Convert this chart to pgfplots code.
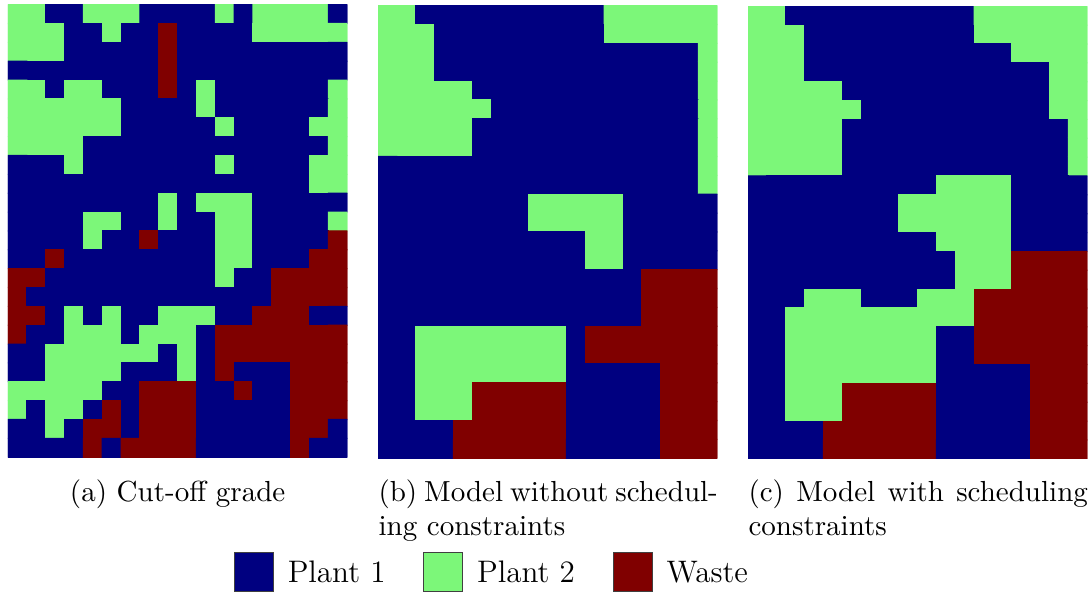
\documentclass[border=0pt]{standalone}
\usepackage{pgfplots}
\usepackage{pgfplotstable}
\pgfplotsset{compat=1.18}
\definecolor{plantone}{RGB}{0,0,128}
\definecolor{planttwo}{RGB}{124,247,121}
\definecolor{waste}{RGB}{128,0,0}
\pgfplotsset{
  colormap={mine}{rgb255=(0,0,128) rgb255=(124,247,121) rgb255=(128,0,0)},
  panel/.style={scale only axis, width=122.15pt, height=162.9pt, hide axis,
    xmin=-0.5, xmax=17.5, ymin=-0.5, ymax=23.5, y dir=reverse,
    enlargelimits=false, anchor=north west, colormap name=mine,
    point meta min=1, point meta max=3},
}
\pgfplotstableread[row sep=\\]{
x y a b c\\
0 0 2 2 2\\1 0 2 2 2\\2 0 1 1 1\\3 0 1 1 1\\4 0 2 1 1\\5 0 2 1 1\\6 0 2 1 1\\7 0 1 1 1\\8 0 1 1 1\\9 0 1 1 1\\10 0 1 1 1\\11 0 2 1 1\\12 0 1 2 2\\13 0 2 2 2\\14 0 2 2 2\\15 0 2 2 2\\16 0 2 2 2\\17 0 1 2 2\\
0 1 2 2 2\\1 1 2 2 2\\2 1 2 2 2\\3 1 1 1 1\\4 1 1 1 1\\5 1 2 1 1\\6 1 1 1 1\\7 1 1 1 1\\8 1 3 1 1\\9 1 1 1 1\\10 1 1 1 1\\11 1 1 1 1\\12 1 1 2 2\\13 1 2 2 2\\14 1 2 2 2\\15 1 2 2 2\\16 1 2 2 2\\17 1 2 2 2\\
0 2 2 2 2\\1 2 2 2 2\\2 2 2 2 2\\3 2 1 1 1\\4 2 1 1 1\\5 2 1 1 1\\6 2 1 1 1\\7 2 1 1 1\\8 2 3 1 1\\9 2 1 1 1\\10 2 1 1 1\\11 2 1 1 1\\12 2 1 1 1\\13 2 1 1 1\\14 2 1 1 2\\15 2 1 1 2\\16 2 1 1 2\\17 2 1 2 2\\
0 3 1 2 2\\1 3 1 2 2\\2 3 1 2 2\\3 3 1 1 1\\4 3 1 1 1\\5 3 1 1 1\\6 3 1 1 1\\7 3 1 1 1\\8 3 3 1 1\\9 3 1 1 1\\10 3 1 1 1\\11 3 1 1 1\\12 3 1 1 1\\13 3 1 1 1\\14 3 1 1 1\\15 3 1 1 1\\16 3 1 1 2\\17 3 1 2 2\\
0 4 2 2 2\\1 4 2 2 2\\2 4 1 2 2\\3 4 2 2 2\\4 4 2 2 2\\5 4 1 1 1\\6 4 1 1 1\\7 4 1 1 1\\8 4 3 1 1\\9 4 1 1 1\\10 4 2 1 1\\11 4 1 1 1\\12 4 1 1 1\\13 4 1 1 1\\14 4 1 1 1\\15 4 1 1 1\\16 4 1 1 2\\17 4 2 2 2\\
0 5 2 2 2\\1 5 2 2 2\\2 5 2 2 2\\3 5 2 2 2\\4 5 2 2 2\\5 5 2 2 2\\6 5 1 1 1\\7 5 1 1 1\\8 5 1 1 1\\9 5 1 1 1\\10 5 2 1 1\\11 5 1 1 1\\12 5 1 1 1\\13 5 1 1 1\\14 5 1 1 1\\15 5 1 1 1\\16 5 1 1 2\\17 5 2 2 2\\
0 6 2 2 2\\1 6 2 2 2\\2 6 2 2 2\\3 6 2 2 2\\4 6 2 2 2\\5 6 2 1 1\\6 6 1 1 1\\7 6 1 1 1\\8 6 1 1 1\\9 6 1 1 1\\10 6 1 1 1\\11 6 2 1 1\\12 6 1 1 1\\13 6 1 1 1\\14 6 1 1 1\\15 6 1 1 1\\16 6 2 1 1\\17 6 2 2 2\\
0 7 2 2 2\\1 7 2 2 2\\2 7 2 2 2\\3 7 2 2 2\\4 7 1 2 2\\5 7 1 1 1\\6 7 1 1 1\\7 7 1 1 1\\8 7 1 1 1\\9 7 1 1 1\\10 7 1 1 1\\11 7 1 1 1\\12 7 1 1 1\\13 7 1 1 1\\14 7 1 1 1\\15 7 1 1 1\\16 7 1 1 1\\17 7 2 2 2\\
0 8 1 1 2\\1 8 1 1 2\\2 8 1 1 2\\3 8 2 1 2\\4 8 1 1 2\\5 8 1 1 1\\6 8 1 1 1\\7 8 1 1 1\\8 8 1 1 1\\9 8 1 1 1\\10 8 1 1 1\\11 8 2 1 1\\12 8 1 1 1\\13 8 1 1 1\\14 8 1 1 1\\15 8 1 1 1\\16 8 2 1 1\\17 8 2 2 2\\
0 9 1 1 1\\1 9 1 1 1\\2 9 1 1 1\\3 9 1 1 1\\4 9 1 1 1\\5 9 1 1 1\\6 9 1 1 1\\7 9 1 1 1\\8 9 1 1 1\\9 9 1 1 1\\10 9 1 1 2\\11 9 1 1 2\\12 9 1 1 2\\13 9 1 1 2\\14 9 1 1 1\\15 9 1 1 1\\16 9 2 1 1\\17 9 2 2 1\\
0 10 1 1 1\\1 10 1 1 1\\2 10 1 1 1\\3 10 1 1 1\\4 10 1 1 1\\5 10 1 1 1\\6 10 1 1 1\\7 10 1 1 1\\8 10 2 2 2\\9 10 1 2 2\\10 10 2 2 2\\11 10 2 2 2\\12 10 2 2 2\\13 10 1 1 2\\14 10 1 1 1\\15 10 1 1 1\\16 10 1 1 1\\17 10 1 1 1\\
0 11 1 1 1\\1 11 1 1 1\\2 11 1 1 1\\3 11 1 1 1\\4 11 2 1 1\\5 11 2 1 1\\6 11 1 1 1\\7 11 1 1 1\\8 11 2 2 2\\9 11 1 2 2\\10 11 1 2 2\\11 11 2 2 2\\12 11 2 2 2\\13 11 1 1 2\\14 11 1 1 1\\15 11 1 1 1\\16 11 1 1 1\\17 11 2 1 1\\
0 12 1 1 1\\1 12 1 1 1\\2 12 1 1 1\\3 12 1 1 1\\4 12 2 1 1\\5 12 1 1 1\\6 12 1 1 1\\7 12 3 1 1\\8 12 1 1 1\\9 12 1 1 1\\10 12 1 1 2\\11 12 2 2 2\\12 12 2 2 2\\13 12 1 1 2\\14 12 1 1 1\\15 12 1 1 1\\16 12 1 1 1\\17 12 3 1 1\\
0 13 1 1 1\\1 13 1 1 1\\2 13 3 1 1\\3 13 1 1 1\\4 13 1 1 1\\5 13 1 1 1\\6 13 1 1 1\\7 13 1 1 1\\8 13 1 1 1\\9 13 1 1 1\\10 13 1 1 1\\11 13 2 2 2\\12 13 2 2 2\\13 13 1 1 2\\14 13 1 1 3\\15 13 1 1 3\\16 13 3 1 3\\17 13 3 1 3\\
0 14 3 1 1\\1 14 3 1 1\\2 14 1 1 1\\3 14 1 1 1\\4 14 1 1 1\\5 14 1 1 1\\6 14 1 1 1\\7 14 1 1 1\\8 14 1 1 1\\9 14 1 1 1\\10 14 1 1 1\\11 14 2 1 2\\12 14 1 1 2\\13 14 1 1 2\\14 14 3 3 3\\15 14 3 3 3\\16 14 3 3 3\\17 14 3 3 3\\
0 15 3 1 1\\1 15 1 1 1\\2 15 1 1 1\\3 15 1 1 2\\4 15 1 1 2\\5 15 1 1 2\\6 15 1 1 1\\7 15 1 1 1\\8 15 1 1 1\\9 15 1 1 2\\10 15 1 1 2\\11 15 1 1 2\\12 15 1 1 3\\13 15 1 1 3\\14 15 3 3 3\\15 15 3 3 3\\16 15 3 3 3\\17 15 3 3 3\\
0 16 3 1 1\\1 16 3 1 1\\2 16 1 1 2\\3 16 2 1 2\\4 16 1 1 2\\5 16 2 1 2\\6 16 1 1 2\\7 16 1 1 2\\8 16 2 1 2\\9 16 2 1 2\\10 16 2 1 2\\11 16 1 1 2\\12 16 1 1 3\\13 16 3 1 3\\14 16 3 3 3\\15 16 3 3 3\\16 16 1 3 3\\17 16 1 3 3\\
0 17 3 1 1\\1 17 1 1 1\\2 17 1 2 2\\3 17 2 2 2\\4 17 2 2 2\\5 17 2 2 2\\6 17 1 2 2\\7 17 2 2 2\\8 17 2 2 2\\9 17 2 2 2\\10 17 1 1 1\\11 17 3 3 1\\12 17 3 3 3\\13 17 3 3 3\\14 17 3 3 3\\15 17 3 3 3\\16 17 3 3 3\\17 17 3 3 3\\
0 18 1 1 1\\1 18 1 1 1\\2 18 2 2 2\\3 18 2 2 2\\4 18 2 2 2\\5 18 2 2 2\\6 18 2 2 2\\7 18 2 2 2\\8 18 1 2 2\\9 18 2 2 2\\10 18 1 1 1\\11 18 3 3 1\\12 18 3 3 3\\13 18 3 3 3\\14 18 3 3 3\\15 18 3 3 3\\16 18 3 3 3\\17 18 3 3 3\\
0 19 1 1 1\\1 19 1 1 1\\2 19 2 2 2\\3 19 2 2 2\\4 19 2 2 2\\5 19 2 2 2\\6 19 1 2 2\\7 19 1 2 2\\8 19 1 2 2\\9 19 2 2 2\\10 19 1 1 1\\11 19 3 1 1\\12 19 1 1 1\\13 19 1 1 1\\14 19 1 1 1\\15 19 3 3 3\\16 19 3 3 3\\17 19 3 3 3\\
0 20 2 1 1\\1 20 2 1 1\\2 20 2 2 2\\3 20 2 2 2\\4 20 2 2 2\\5 20 1 3 3\\6 20 1 3 3\\7 20 3 3 3\\8 20 3 3 3\\9 20 3 3 3\\10 20 1 1 1\\11 20 1 1 1\\12 20 3 1 1\\13 20 1 1 1\\14 20 1 1 1\\15 20 3 3 3\\16 20 3 3 3\\17 20 3 3 3\\
0 21 2 1 1\\1 21 1 1 1\\2 21 2 2 2\\3 21 2 2 2\\4 21 1 2 2\\5 21 3 3 3\\6 21 1 3 3\\7 21 3 3 3\\8 21 3 3 3\\9 21 3 3 3\\10 21 1 1 1\\11 21 1 1 1\\12 21 1 1 1\\13 21 1 1 1\\14 21 1 1 1\\15 21 3 3 3\\16 21 3 3 3\\17 21 3 3 3\\
0 22 1 1 1\\1 22 1 1 1\\2 22 2 1 1\\3 22 1 1 1\\4 22 3 3 3\\5 22 3 3 3\\6 22 1 3 3\\7 22 3 3 3\\8 22 3 3 3\\9 22 3 3 3\\10 22 1 1 1\\11 22 1 1 1\\12 22 1 1 1\\13 22 1 1 1\\14 22 1 1 1\\15 22 3 3 3\\16 22 3 3 3\\17 22 1 3 3\\
0 23 1 1 1\\1 23 1 1 1\\2 23 1 1 1\\3 23 1 1 1\\4 23 3 3 3\\5 23 1 3 3\\6 23 3 3 3\\7 23 3 3 3\\8 23 3 3 3\\9 23 3 3 3\\10 23 1 1 1\\11 23 1 1 1\\12 23 1 1 1\\13 23 1 1 1\\14 23 1 1 1\\15 23 3 3 3\\16 23 1 3 3\\17 23 1 3 3\\
}\gridtab
\begin{document}
\begin{tikzpicture}
\path[use as bounding box] (0pt,0pt) rectangle (393.12pt,-213.48pt);
\begin{axis}[panel, at={(2.88pt,-1.69pt)},
  legend style={at={(0.6657,-0.2088)}, anchor=north west, draw=none, fill=none,
    inner sep=0pt, outer sep=0pt, legend columns=3,
    font=\fontsize{11.2}{13.6}\selectfont,
    nodes={inner sep=0pt, text depth=0pt},
    cells={anchor=west},
    /tikz/every odd column/.append style={column sep=5.0pt},
    /tikz/every even column/.append style={column sep=13.6pt}},
  legend image code/.code={\draw[#1] (0pt,-7pt) rectangle (14pt,7pt);}]
\addplot[matrix plot*, mesh/cols=18, point meta=explicit, forget plot] table[x=x, y=y, meta=a] {\gridtab};
\addlegendimage{fill=plantone, draw=black!75, line width=0.4pt}
\addlegendentry{Plant 1}
\addlegendimage{fill=planttwo, draw=black!75, line width=0.4pt}
\addlegendentry{Plant 2}
\addlegendimage{fill=waste, draw=black!75, line width=0.4pt}
\addlegendentry{Waste}
\end{axis}
\begin{axis}[panel, at={(136.08pt,-2.05pt)}]
\addplot[matrix plot*, mesh/cols=18, point meta=explicit] table[x=x, y=y, meta=b] {\gridtab};
\end{axis}
\begin{axis}[panel, at={(269.28pt,-2.27pt)}]
\addplot[matrix plot*, mesh/cols=18, point meta=explicit] table[x=x, y=y, meta=c] {\gridtab};
\end{axis}
\node[anchor=base, text width=122.15pt, align=center, inner sep=0pt, font=\fontsize{10.45}{12}\selectfont] at (63.96pt,-180.4pt) {(a) Cut-off grade};
\node[anchor=base west, text width=122.15pt, align=justify, inner sep=0pt, font=\fontsize{10.45}{12}\selectfont] at (136.08pt,-180.6pt) {(b) Model without schedul\-ing constraints};
\node[anchor=base west, text width=122.15pt, align=justify, inner sep=0pt, font=\fontsize{10.45}{12}\selectfont] at (269.28pt,-180.6pt) {(c) Model with scheduling constraints};
\end{tikzpicture}
\end{document}
